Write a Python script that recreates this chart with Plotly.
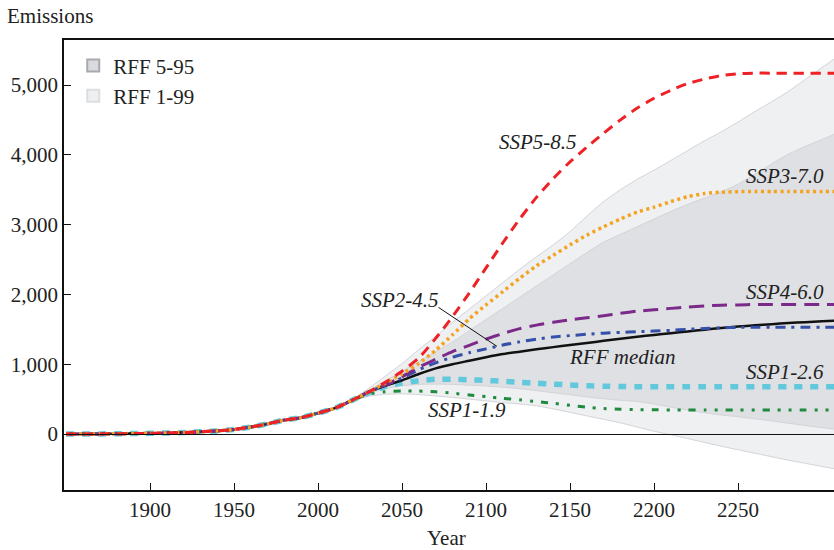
import plotly.graph_objects as go

# ---------------- data ----------------
HIST_YEARS = [1850, 1860, 1870, 1880, 1890, 1900, 1910, 1920, 1930, 1940,
              1950, 1960, 1970, 1980, 1990, 2000, 2010]
HIST_VALUES = [0, 1, 2, 4, 7, 10, 15, 22, 32, 45,
               65, 100, 145, 200, 235, 300, 370]

PROJ_YEARS = list(range(2020, 2311, 10))

SSP585 = [480, 600, 740, 900, 1090, 1370, 1680, 2020, 2380, 2740,
          3080, 3390, 3660, 3900, 4110, 4310, 4500, 4670, 4810, 4925,
          5020, 5085, 5135, 5160, 5170, 5170, 5170, 5170, 5170, 5170]
SSP370 = [480, 600, 730, 860, 1010, 1200, 1420, 1650, 1850, 2040,
          2230, 2410, 2560, 2710, 2850, 2970, 3080, 3180, 3250, 3330,
          3400, 3445, 3465, 3472, 3475, 3475, 3475, 3475, 3475, 3475]
SSP460 = [480, 600, 700, 820, 960, 1070, 1180, 1270, 1360, 1440,
          1510, 1560, 1600, 1635, 1665, 1695, 1730, 1760, 1780, 1800,
          1820, 1835, 1845, 1850, 1855, 1855, 1855, 1855, 1855, 1855]
SSP245 = [480, 600, 700, 800, 920, 1020, 1100, 1165, 1220, 1275,
          1320, 1360, 1390, 1410, 1430, 1445, 1455, 1465, 1475, 1485,
          1500, 1512, 1522, 1528, 1530, 1530, 1530, 1530, 1530, 1530]
RFF_MEDIAN = [480, 600, 690, 770, 860, 940, 1000, 1050, 1100, 1145,
              1180, 1215, 1245, 1275, 1305, 1335, 1365, 1395, 1420, 1445,
              1470, 1495, 1518, 1540, 1558, 1574, 1590, 1602, 1614, 1625]
SSP126 = [480, 590, 680, 730, 765, 785, 785, 778, 768, 755,
          740, 728, 715, 702, 692, 685, 680, 678, 678, 678,
          678, 678, 678, 678, 678, 678, 678, 678, 678, 678]
SSP119 = [480, 570, 605, 615, 615, 605, 585, 560, 535, 510,
          490, 465, 440, 412, 385, 365, 355, 350, 347, 345,
          344, 344, 344, 344, 344, 344, 344, 344, 344, 344]

RFF_P95 = [485, 620, 760, 900, 1040, 1180, 1320, 1480, 1640, 1800,
           1960, 2120, 2280, 2440, 2600, 2750, 2860, 2970, 3080, 3190,
           3290, 3380, 3470, 3580, 3720, 3870, 4010, 4120, 4220, 4320]
RFF_P05 = [475, 580, 650, 690, 710, 715, 710, 700, 688, 670,
           650, 622, 592, 562, 532, 505, 483, 465, 430, 385,
           345, 305, 272, 248, 218, 188, 155, 122, 92, 62]
RFF_P99 = [490, 650, 830, 1010, 1210, 1400, 1600, 1790, 1980, 2170,
           2360, 2540, 2710, 2900, 3120, 3330, 3500, 3650, 3780, 3920,
           4060, 4200, 4330, 4470, 4620, 4760, 4910, 5080, 5250, 5420]
RFF_P01 = [470, 540, 570, 575, 565, 545, 525, 500, 475, 450,
           430, 405, 360, 310, 260, 210, 160, 100, 40, -10,
           -65, -120, -175, -225, -275, -325, -375, -420, -465, -510]

X_TICKS = [1900, 1950, 2000, 2050, 2100, 2150, 2200, 2250]
Y_TICKS = [0, 1000, 2000, 3000, 4000, 5000]

FONT = "Liberation Serif"
TXT = "#222222"

full_years = HIST_YEARS + PROJ_YEARS


def full(series):
    return HIST_VALUES + series


fig = go.Figure()

# ---------------- bands ----------------
for lo, hi, fillc in [(RFF_P01, RFF_P99, "#eff0f2"), (RFF_P05, RFF_P95, "#dfe0e3")]:
    fig.add_trace(go.Scatter(x=PROJ_YEARS, y=lo, mode="lines",
                             line=dict(color="#d2d3d7", width=1, shape="spline", smoothing=0.6),
                             showlegend=False, hoverinfo="skip"))
    fig.add_trace(go.Scatter(x=PROJ_YEARS, y=hi, mode="lines", fill="tonexty",
                             fillcolor=fillc,
                             line=dict(color="#d2d3d7", width=1, shape="spline", smoothing=0.6),
                             showlegend=False, hoverinfo="skip"))

# ---------------- scenario lines ----------------
lines = [
    (SSP126, "#62c9dd", 5.5, "8px,8px"),
    (SSP119, "#1e8a3e", 3, "7px,8px,3px,8px,3px,8px"),
    (RFF_MEDIAN, "#111111", 2.5, "solid"),
    (SSP245, "#3550a8", 3, "10px,6px,3px,6px"),
    (SSP460, "#7b2a8a", 3, "15px,8px"),
    (SSP370, "#f5a21f", 3.5, "3px,3.5px"),
    (SSP585, "#ee2226", 3, "10px,7px"),
]
for vals, col, w, dash in lines:
    fig.add_trace(go.Scatter(x=full_years, y=full(vals), mode="lines",
                             line=dict(color=col, width=w, dash=dash,
                                       shape="spline", smoothing=0.6),
                             showlegend=False, hoverinfo="skip"))

# ---------------- legend entries ----------------
fig.add_trace(go.Scatter(x=[None], y=[None], mode="markers", name="RFF 5-95",
                         marker=dict(symbol="square", size=16, color="#d9dadd",
                                     line=dict(color="#a8a9ad", width=1))))
fig.add_trace(go.Scatter(x=[None], y=[None], mode="markers", name="RFF 1-99",
                         marker=dict(symbol="square", size=16, color="#eeeff1",
                                     line=dict(color="#dcdde0", width=1))))

# ---------------- annotations ----------------
labels = [
    ("SSP5-8.5", 2131, 4184),
    ("SSP3-7.0", 2278, 3697),
    ("SSP4-6.0", 2278, 2035),
    ("SSP2-4.5", 2049, 1920),
    ("RFF median", 2181.5, 1103),
    ("SSP1-2.6", 2278, 888),
    ("SSP1-1.9", 2088.7, 344),
]
for t, x, y in labels:
    fig.add_annotation(x=x, y=y, text="<i>%s</i>" % t, showarrow=False,
                       xanchor="center", yanchor="middle",
                       font=dict(family=FONT, size=21, color=TXT))

# pointer for SSP2-4.5
ptr_year = 2106.5
i = PROJ_YEARS.index(2100)
ptr_val = SSP245[i] + (SSP245[i + 1] - SSP245[i]) * (ptr_year - 2100) / 10
fig.add_annotation(x=ptr_year, y=ptr_val, text="", showarrow=True,
                   arrowhead=0, arrowwidth=1, arrowcolor="#111111",
                   ax=-60, ay=-40)

fig.add_annotation(xref="paper", yref="paper", x=-0.0766, y=1.0533,
                   text="Emissions", showarrow=False, xanchor="left",
                   yanchor="middle", font=dict(family=FONT, size=21, color=TXT))
fig.add_annotation(xref="paper", yref="paper", x=0.497, y=-0.1067,
                   text="Year", showarrow=False, xanchor="center",
                   yanchor="middle", font=dict(family=FONT, size=21, color=TXT))

fig.update_layout(
    width=834, height=550,
    margin=dict(l=64, r=0, t=40, b=60),
    paper_bgcolor="white", plot_bgcolor="white",
    font=dict(family=FONT, size=21, color=TXT),
    legend=dict(x=0.012, y=0.988, xanchor="left", yanchor="top",
                traceorder="normal",
                bgcolor="rgba(0,0,0,0)", font=dict(family=FONT, size=21, color=TXT),
                itemsizing="constant", tracegroupgap=0),
    xaxis=dict(range=[1848.8, 2307.1], tickvals=X_TICKS, ticks="inside",
               ticklen=7, tickwidth=1.2, tickcolor="#111",
               showline=True, linecolor="#111", linewidth=1.5, mirror=True,
               showgrid=False, zeroline=False, layer="above traces",
               tickfont=dict(family=FONT, size=21, color=TXT)),
    yaxis=dict(range=[-802, 5645], tickvals=Y_TICKS, tickformat=",",
               ticks="inside", ticklen=7, tickwidth=1.2, tickcolor="#111",
               showline=True, linecolor="#111", linewidth=1.5, mirror=False,
               showgrid=False, zeroline=True, zerolinecolor="#111",
               zerolinewidth=1.2, layer="above traces",
               tickfont=dict(family=FONT, size=21, color=TXT)),
)

# zero reference line drawn above the bands
try:
    fig.update_yaxes(zerolinelayer="above traces")
except Exception:
    fig.update_yaxes(zeroline=False)
    fig.add_hline(y=0, line=dict(color="#111", width=1.2), layer="above")

fig.write_html("out.html",
               config={"displayModeBar": False},
               post_script="document.body.style.margin='0';document.body.style.padding='0';")
